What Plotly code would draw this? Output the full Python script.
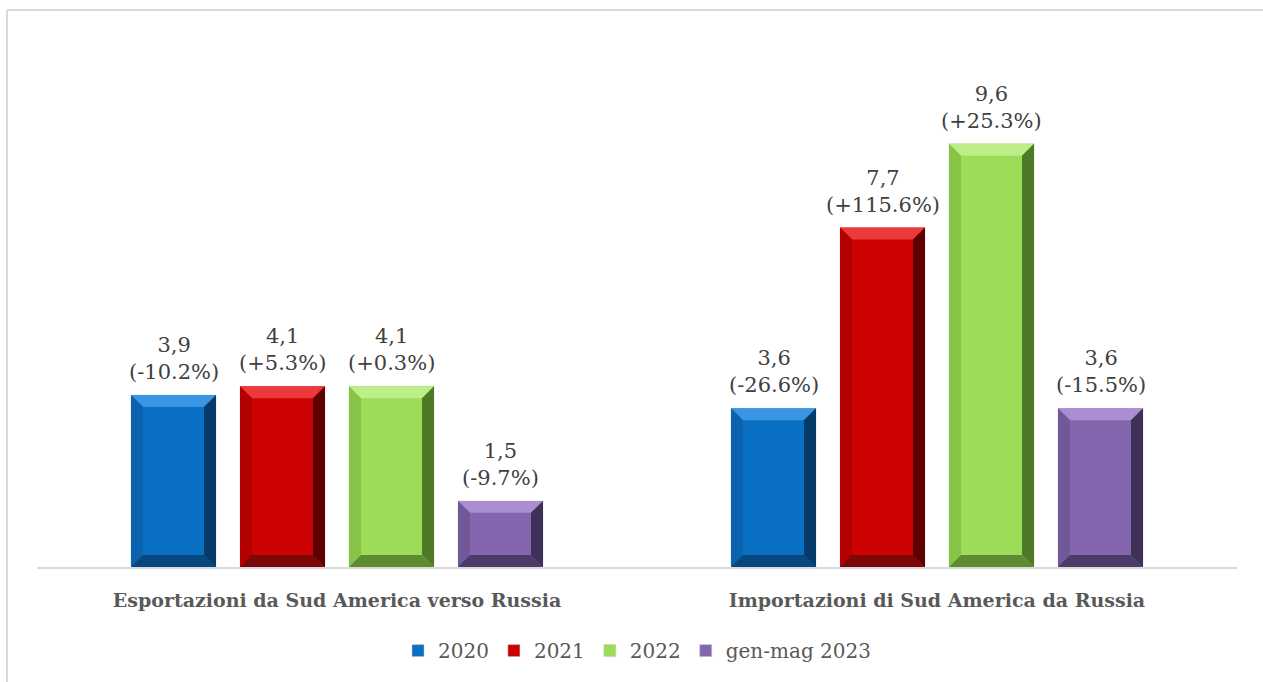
import plotly.graph_objects as go

categories = ["Esportazioni da Sud America verso Russia", "Importazioni di Sud America da Russia"]
series_names = ["2020", "2021", "2022", "gen-mag 2023"]
values_2020 = [3.9, 3.6]
values_2021 = [4.1, 7.7]
values_2022 = [4.1, 9.6]
values_2023 = [1.5, 3.6]
change_2020 = ["-10.2%", "-26.6%"]
change_2021 = ["+5.3%", "+115.6%"]
change_2022 = ["+0.3%", "+25.3%"]
change_2023 = ["-9.7%", "-15.5%"]

series_values = [values_2020, values_2021, values_2022, values_2023]
series_changes = [change_2020, change_2021, change_2022, change_2023]

# face, top bevel, left bevel, right bevel, bottom bevel
palettes = [
    ("#0A70C4", "#3A95E4", "#0B62AE", "#063A68", "#07477E"),
    ("#CC0202", "#EC3A3A", "#B30000", "#5E0000", "#7A0808"),
    ("#9CDC58", "#BDEE88", "#86C447", "#4E7A28", "#5E8C32"),
    ("#8466AE", "#A98ED0", "#725799", "#3E3157", "#4B3C68"),
]

FONT = "DejaVu Serif"
W, H = 1263, 682
M_L, M_R, M_T, M_B = 37, 26, 38, 115
Y_MAX = 12.0
plot_w = W - M_L - M_R
plot_h = H - M_T - M_B

n = len(series_names)
slot = 0.18167          # spacing between neighbouring bars (category units)
bar_w = 0.14167         # bar width (category units)
group_w = slot * (n - 1) + bar_w
bev_px = 12
bx = bev_px / plot_w * 2.0  # x range spans 2 units
by = bev_px / plot_h * Y_MAX

xpos = list(range(len(categories)))

fig = go.Figure()
shapes = []
annotations = []
for i, (name, vals, chg, pal) in enumerate(zip(series_names, series_values, series_changes, palettes)):
    off = -group_w / 2 + slot * i
    fig.add_trace(go.Bar(
        name=name, x=xpos, y=vals, width=bar_w, offset=off,
        marker=dict(color=pal[0], line=dict(color="rgba(200,200,200,0.8)", width=0.6)),
        hoverinfo="skip",
    ))
    for xc, v, c in zip(xpos, vals, chg):
        x0 = xc + off
        x1 = x0 + bar_w
        annotations.append(dict(
            x=(x0 + x1) / 2, y=v, xref="x", yref="y",
            text=f"{str(v).replace('.', ',')}<br>({c})",
            showarrow=False, yanchor="bottom", yshift=9,
            font=dict(family=FONT, size=21, color="#404040"),
        ))
        faces = [
            (pal[1], [(x0, v), (x1, v), (x1 - bx, v - by), (x0 + bx, v - by)]),
            (pal[2], [(x0, 0), (x0, v), (x0 + bx, v - by), (x0 + bx, by)]),
            (pal[3], [(x1, 0), (x1, v), (x1 - bx, v - by), (x1 - bx, by)]),
            (pal[4], [(x0, 0), (x1, 0), (x1 - bx, by), (x0 + bx, by)]),
        ]
        for col, pts in faces:
            path = "M " + " L ".join(f"{px:.5f},{py:.5f}" for px, py in pts) + " Z"
            shapes.append(dict(type="path", path=path, xref="x", yref="y",
                               fillcolor=col, line=dict(width=0), layer="above"))

# chart frame
fy_top = 1 + (M_T - 10) / plot_h
fx_left = -(M_L - 7) / plot_w
shapes.append(dict(type="line", xref="paper", yref="paper", x0=fx_left, x1=1.1,
                   y0=fy_top, y1=fy_top, line=dict(color="#D9D9D9", width=2)))
shapes.append(dict(type="line", xref="paper", yref="paper", x0=fx_left, x1=fx_left,
                   y0=fy_top, y1=-0.3, line=dict(color="#D9D9D9", width=2)))

fig.update_layout(
    width=W, height=H,
    margin=dict(l=M_L, r=M_R, t=M_T, b=M_B),
    paper_bgcolor="white", plot_bgcolor="white",
    barmode="overlay",
    showlegend=True,
    legend=dict(orientation="h", x=0.5, xanchor="center", y=-0.158, yanchor="middle",
                font=dict(family=FONT, size=20, color="#595959"),
                itemclick=False, itemdoubleclick=False, tracegroupgap=0),
    xaxis=dict(range=[-0.5, 1.5], tickvals=xpos, ticktext=categories,
               showgrid=False, zeroline=False, showline=True, linecolor="#D9D9D9", linewidth=2,
               ticks="", tickfont=dict(family=FONT, size=19, color="#595959", weight="bold"),
               ticklabelstandoff=15, fixedrange=True),
    yaxis=dict(range=[0, Y_MAX], visible=False, showgrid=False, zeroline=False, fixedrange=True),
    shapes=shapes,
    annotations=annotations,
)

fig.write_html("out.html")
